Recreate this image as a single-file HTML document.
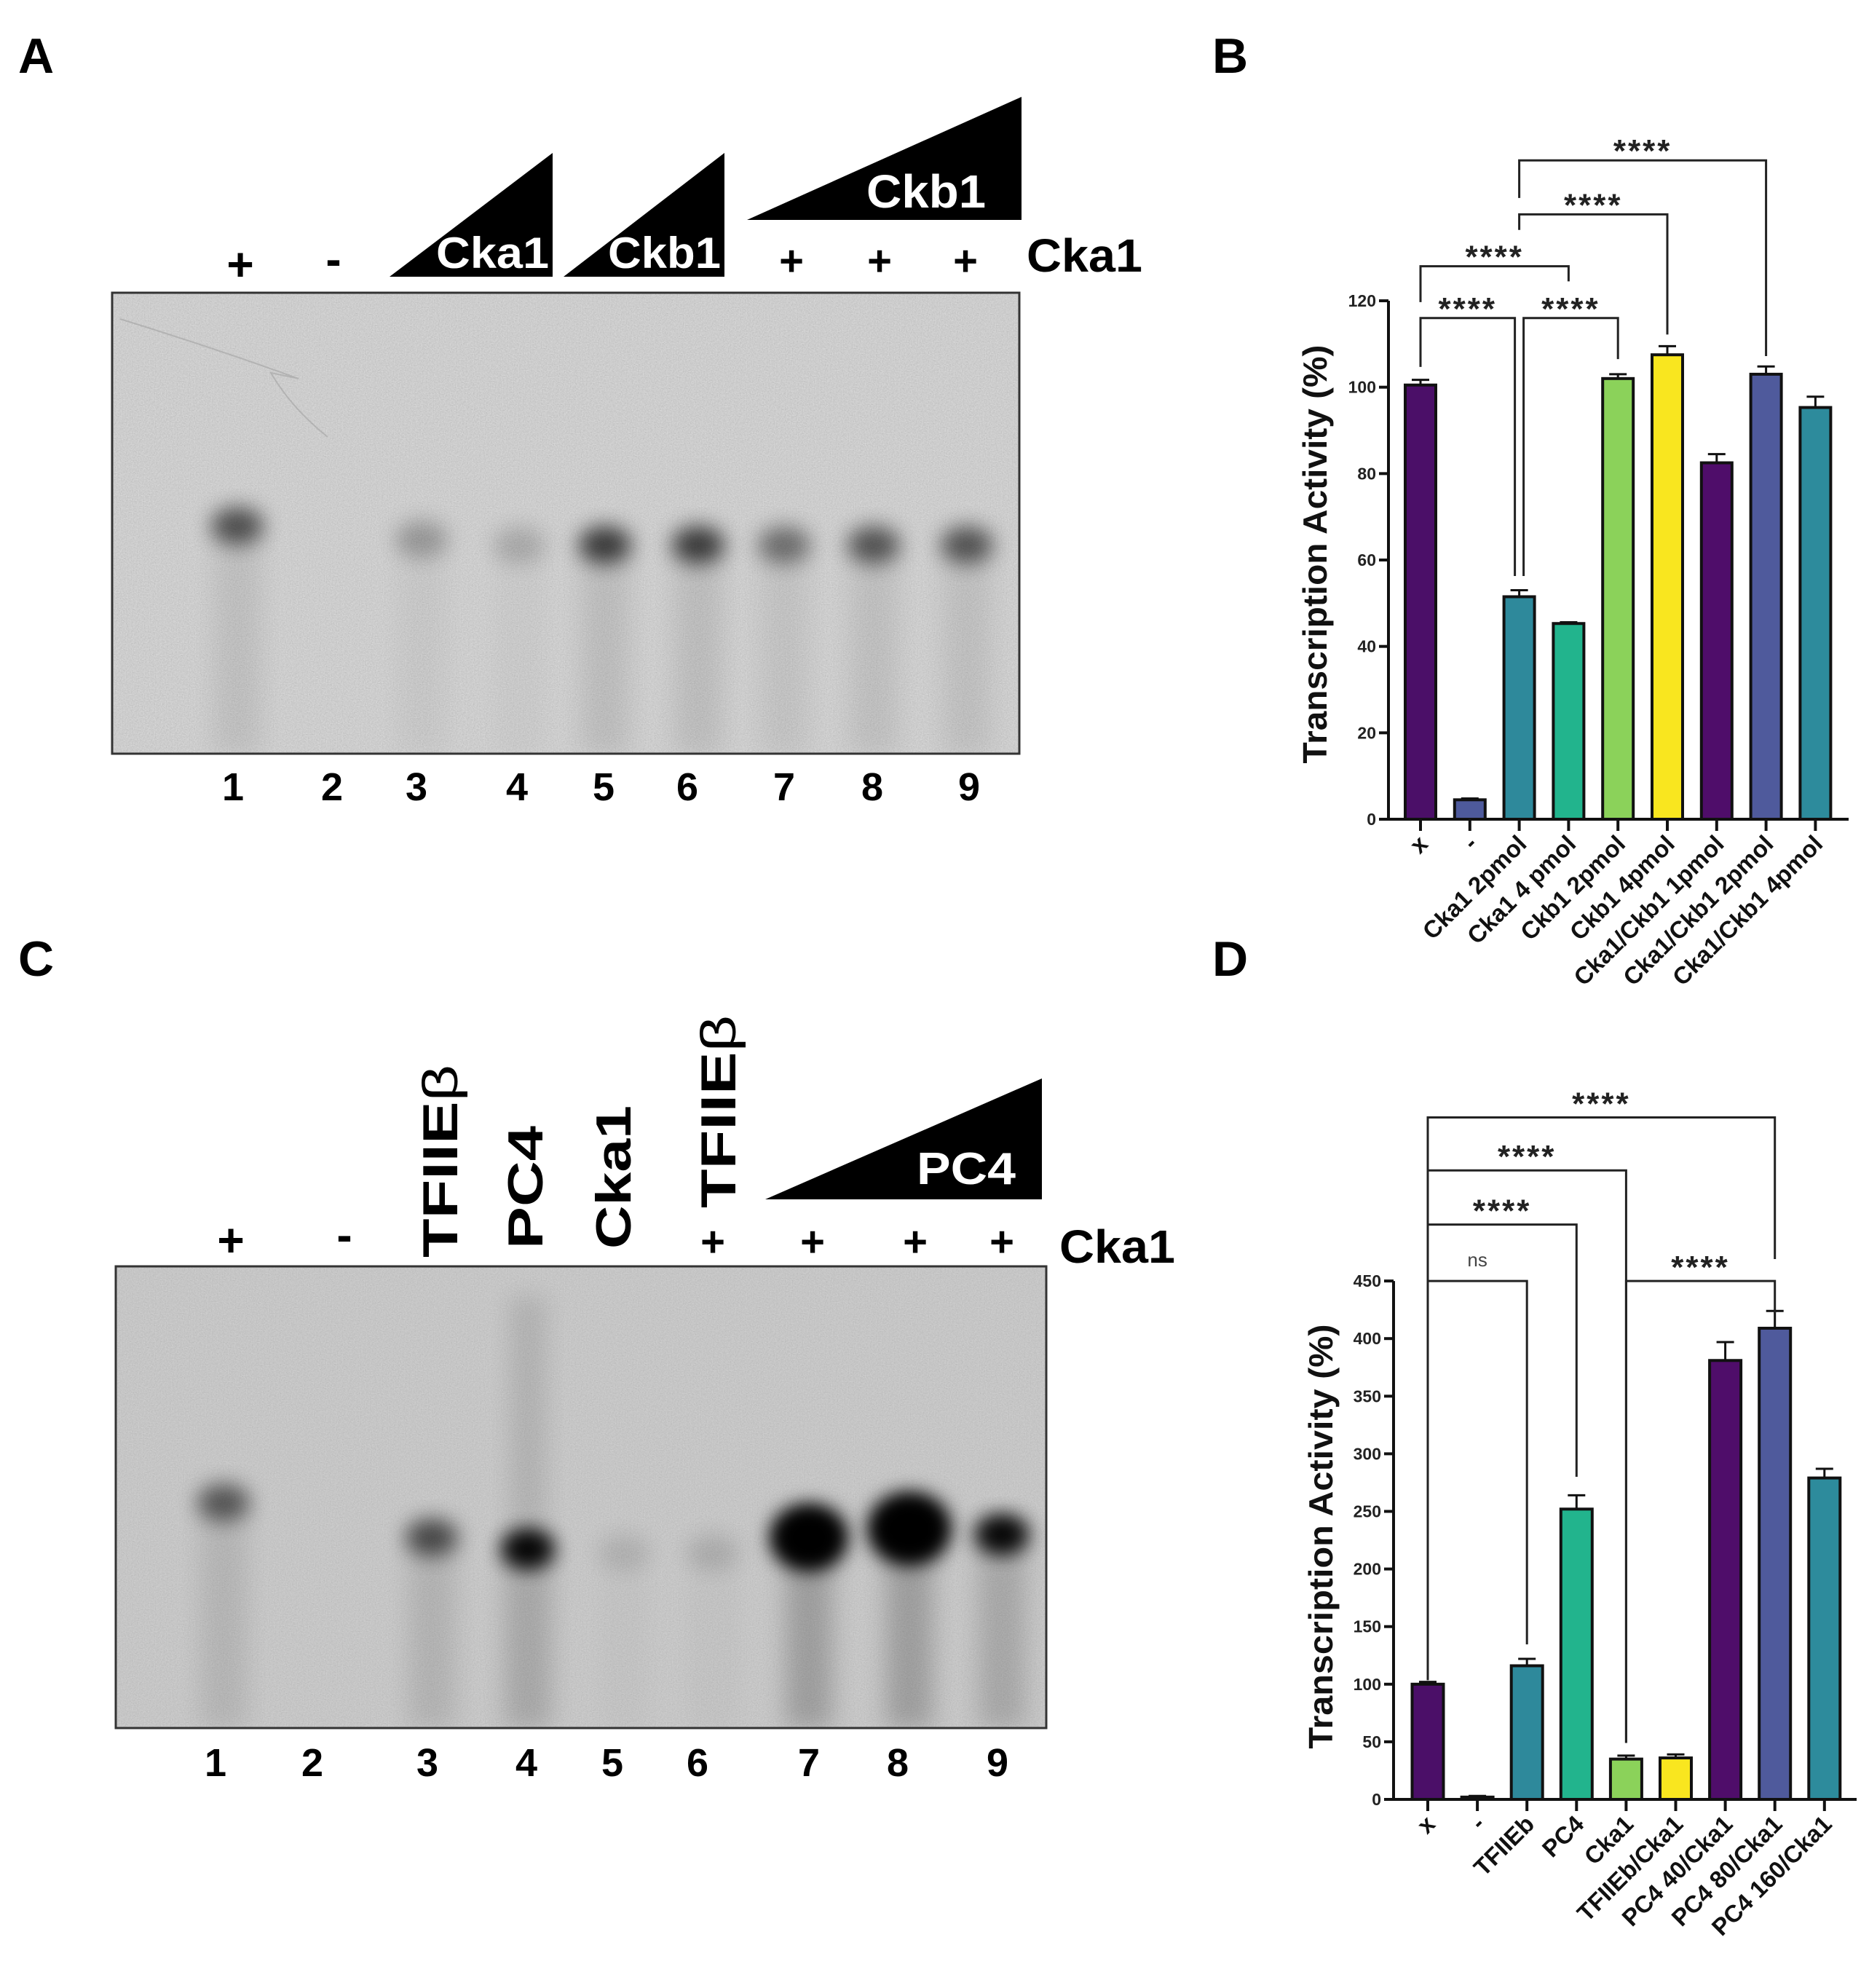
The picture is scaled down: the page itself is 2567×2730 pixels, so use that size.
<!DOCTYPE html>
<html><head><meta charset="utf-8"><style>
html,body{margin:0;padding:0;background:#fff}
svg{display:block}
text{font-family:"Liberation Sans",Arial,sans-serif}
</style></head><body>
<svg id="fig" width="2567" height="2730" viewBox="0 0 2567 2730" xmlns="http://www.w3.org/2000/svg">
<defs>
<filter id="noise" x="0" y="0" width="100%" height="100%">
<feTurbulence type="fractalNoise" baseFrequency="0.6" numOctaves="2" seed="3" result="t"/>
<feColorMatrix type="matrix" values="0 0 0 0 0  0 0 0 0 0  0 0 0 0 0  0.33 0.33 0.33 0 -0.35"/>
<feComposite in2="SourceGraphic" operator="in"/>
</filter>
<filter id="blurB" x="-50%" y="-50%" width="200%" height="200%"><feGaussianBlur stdDeviation="14"/></filter>
<filter id="blurS" x="-50%" y="-10%" width="200%" height="120%"><feGaussianBlur stdDeviation="16"/></filter>
<clipPath id="clipA"><rect x="154" y="402" width="1246" height="633"/></clipPath>
<clipPath id="clipC"><rect x="159" y="1739" width="1278" height="634"/></clipPath>
</defs>

<text x="25" y="100" font-size="68" font-weight="bold">A</text>
<text x="1665" y="100" font-size="68" font-weight="bold">B</text>
<text x="25" y="1340" font-size="68" font-weight="bold">C</text>
<text x="1665" y="1340" font-size="68" font-weight="bold">D</text>

<g>
<rect x="154" y="402" width="1246" height="633" fill="#d6d6d6"/>
<rect x="154" y="402" width="1246" height="633" fill="#fff" filter="url(#noise)" opacity="0.3"/>
<g id="gelAmarks" clip-path="url(#clipA)"></g>
<path d="M165 438 Q 300 480 410 520 L 372 512 Q 400 560 450 600" stroke="#999" stroke-width="2" fill="none" opacity="0.5"/>
<rect x="154" y="402" width="1246" height="633" fill="none" stroke="#333" stroke-width="3"/>
</g>
<g font-weight="bold">
<text x="330" y="385" font-size="64" text-anchor="middle">+</text>
<text x="458" y="378" font-size="64" text-anchor="middle">-</text>
<polygon points="535,380 759,210 759,380" fill="#000"/>
<text x="754" y="368" font-size="60" fill="#fff" text-anchor="end" textLength="155" lengthAdjust="spacingAndGlyphs">Cka1</text>
<polygon points="774,380 995,210 995,380" fill="#000"/>
<text x="990" y="368" font-size="60" fill="#fff" text-anchor="end" textLength="155" lengthAdjust="spacingAndGlyphs">Ckb1</text>
<polygon points="1026,302 1403,133 1403,302" fill="#000"/>
<text x="1354" y="285" font-size="64" fill="#fff" text-anchor="end" textLength="164" lengthAdjust="spacingAndGlyphs">Ckb1</text>
<text x="1087" y="378" font-size="58" text-anchor="middle">+</text>
<text x="1208" y="378" font-size="58" text-anchor="middle">+</text>
<text x="1326" y="378" font-size="58" text-anchor="middle">+</text>
<text x="1410" y="373" font-size="64" textLength="159" lengthAdjust="spacingAndGlyphs">Cka1</text>
</g>
<g id="gelAnums"></g>

<g>
<rect x="159" y="1739" width="1278" height="634" fill="#cdcdcd"/>
<rect x="159" y="1739" width="1278" height="634" fill="#fff" filter="url(#noise)" opacity="0.25"/>
<g id="gelCmarks" clip-path="url(#clipC)"></g>
<rect x="159" y="1739" width="1278" height="634" fill="none" stroke="#333" stroke-width="3"/>
</g>
<g font-weight="bold">
<text x="317" y="1725" font-size="64" text-anchor="middle">+</text>
<text x="473" y="1718" font-size="64" text-anchor="middle">-</text>
<text transform="translate(628,1727) rotate(-90)" font-size="68" textLength="265" lengthAdjust="spacingAndGlyphs">TFIIE<tspan font-weight="normal">β</tspan></text>
<text transform="translate(745,1715) rotate(-90)" font-size="68" textLength="169" lengthAdjust="spacingAndGlyphs">PC4</text>
<text transform="translate(866,1715) rotate(-90)" font-size="68" textLength="197" lengthAdjust="spacingAndGlyphs">Cka1</text>
<text x="979" y="1725" font-size="58" text-anchor="middle">+</text>
<text transform="translate(1010,1659) rotate(-90)" font-size="68" textLength="265" lengthAdjust="spacingAndGlyphs">TFIIE<tspan font-weight="normal">β</tspan></text>
<polygon points="1051,1647 1431,1481 1431,1647" fill="#000"/>
<text x="1395" y="1626" font-size="62" fill="#fff" text-anchor="end" textLength="136" lengthAdjust="spacingAndGlyphs">PC4</text>
<text x="1116" y="1725" font-size="58" text-anchor="middle">+</text>
<text x="1257" y="1725" font-size="58" text-anchor="middle">+</text>
<text x="1376" y="1725" font-size="58" text-anchor="middle">+</text>
<text x="1455" y="1734" font-size="64" textLength="159" lengthAdjust="spacingAndGlyphs">Cka1</text>
</g>
<g id="gelCnums"></g>

<g id="chartB"></g>
<g id="chartD"></g>
</svg>
<script>
// ---- Chart B data ----
const catB = ["x","-","Cka1 2pmol","Cka1 4 pmol","Ckb1 2pmol","Ckb1 4pmol","Cka1/Ckb1 1pmol","Cka1/Ckb1 2pmol","Cka1/Ckb1 4pmol"];
const valB = [100.5, 4.5, 51.5, 45.3, 102, 107.5, 82.5, 103, 95.3];
const errB = [1.2, 0.3, 1.5, 0.3, 1.0, 2.0, 2.0, 1.8, 2.5];
const ticksB = [0,20,40,60,80,100,120];
const bracketFromB = [0, 2, 0, 2, 2];
const bracketToB = [2, 4, 3, 5, 7];
const bracketLevelB = [116, 116, 128, 140, 152.5];
const bracketFromBotB = [104.7, 56.3, 119.7, 136.4, 143.8];
const bracketToBotB = [56.3, 106.5, 124.5, 112.2, 107.2];
const bracketShiftFromB = [0, 6, 0, 0, 0];
const bracketShiftToB = [-6, 0, 0, 0, 0];
const bracketLabelB = ["****","****","****","****","****"];
// ---- Chart D data ----
const catD = ["x","-","TFIIEb","PC4","Cka1","TFIIEb/Cka1","PC4 40/Cka1","PC4 80/Cka1","PC4 160/Cka1"];
const valD = [100, 2, 116, 252, 35, 36, 381, 409, 279];
const errD = [2, 1, 6, 12, 3, 3, 16, 15, 8];
const ticksD = [0,50,100,150,200,250,300,350,400,450];
const bracketFromD = [0, 0, 0, 0, 4];
const bracketToD = [2, 3, 4, 7, 7];
const bracketLevelD = [450, 499, 546, 592, 450];
const bracketFromBotD = [103.6, 103.6, 103.6, 103.6, 49];
const bracketToBotD = [134.6, 280, 49, 469, 422];
const bracketShiftFromD = [0, 0, 0, 0, 0];
const bracketShiftToD = [0, 0, 0, 0, 0];
const bracketLabelD = ["ns","****","****","****","****"];
// ---- Gel data ----
const laneA = [1,2,3,4,5,6,7,8,9];
const bandIntA = [0.6, 0, 0.25, 0.17, 0.7, 0.7, 0.45, 0.58, 0.58];
const bandYA = [722, 748, 740, 748, 748, 748, 748, 748, 748];
const bandXA = [326, 458, 579, 713, 831, 959, 1077, 1200, 1328];
const numXA = [320, 456, 572, 710, 829, 944, 1077, 1198, 1331];
const laneC = [1,2,3,4,5,6,7,8,9];
const bandIntC = [0.55, 0, 0.62, 0.95, 0.1, 0.12, 1.4, 1.5, 0.95];
const bandYC = [2063, 2110, 2111, 2127, 2131, 2131, 2111, 2099, 2107];
const bandXC = [307, 440, 593, 725, 857, 979, 1111, 1249, 1376];
const numXC = [296, 429, 587, 723, 841, 958, 1111, 1233, 1370];

const colors = ["#4b0f68","#4e5a9c","#2e899b","#22b48d","#8bd25a","#f9e61f","#4f0d6a","#4f5a9c","#2d8b9c"];
const NS = "http://www.w3.org/2000/svg";
function mk(tag, attrs, parent){ const e=document.createElementNS(NS,tag); for(const k in attrs) e.setAttribute(k,attrs[k]); parent.appendChild(e); return e; }

function drawGel(gId, nId, lanes, ints, ys, xs, nxs, bottom, numY, smearK){
  const g=document.getElementById(gId);
  for(let i=0;i<lanes.length;i++){
    const it=ints[i];
    if(it<=0) continue;
    const s = mk('rect',{x:xs[i]-32,y:ys[i],width:64,height:bottom-ys[i],fill:'#000',opacity:Math.min(0.2,it*smearK),filter:'url(#blurS)'},g);
    
    
    const rx = 36 + (it>1?(it-1)*40:0), ry = 26 + (it>1?(it-1)*45:0);
    const b = mk('ellipse',{cx:xs[i],cy:ys[i],rx:rx,ry:ry,fill:'#000',opacity:Math.min(1,it),filter:'url(#blurB)'},g);
    
    
    if(it>0.8){
      const c = mk('ellipse',{cx:xs[i],cy:ys[i],rx:rx*0.8,ry:ry*0.8,fill:'#000',opacity:Math.min(1,it-0.4),filter:'url(#blurB)'},g);
      
      
    }
  }
  const n=document.getElementById(nId);
  for(let i=0;i<lanes.length;i++){
    const t=mk('text',{x:nxs[i],y:numY,'font-size':54,'font-weight':'bold','text-anchor':'middle'},n);
    
    
    t.textContent=lanes[i];
  }
}
drawGel('gelAmarks','gelAnums',laneA,bandIntA,bandYA,bandXA,numXA,1035,1099,0.12);
drawGel('gelCmarks','gelCnums',laneC,bandIntC,bandYC,bandXC,numXC,2373,2439,0.16);
(function(){const g=document.getElementById('gelCmarks');
const e=mk('rect',{x:700,y:1780,width:50,height:330,fill:'#000',opacity:0.1,filter:'url(#blurS)'},g);

})();

function drawChart(gId, cats, vals, errs, ticks, bf, bt, bl, bfb, btb, bsf, bst, blab, o){
  const g=document.getElementById(gId);
  const y=v=>o.y0 - v*o.k;
  const x=i=>o.x0 + i*o.step;
  for(let i=0;i<cats.length;i++){
    const r=mk('rect',{x:x(i)-o.bw/2,y:y(vals[i]),width:o.bw,height:o.y0-y(vals[i]),fill:colors[i],stroke:'#111','stroke-width':4},g);
    
    
    const e=mk('path',{d:`M${x(i)} ${y(vals[i])} V${y(vals[i]+errs[i])} M${x(i)-12} ${y(vals[i]+errs[i])} H${x(i)+12}`,stroke:'#111','stroke-width':3,fill:'none'},g);
    
    
  }
  const ax=mk('path',{d:`M${o.ax} ${y(ticks[ticks.length-1])} V${o.y0} H${o.xend}`,stroke:'#111','stroke-width':4,fill:'none'},g);
  
  
  for(const t of ticks){
    const tk=mk('line',{x1:o.ax-13,x2:o.ax,y1:y(t),y2:y(t),stroke:'#111','stroke-width':4},g);
    
    
    const tl=mk('text',{x:o.ax-17,y:y(t)+8,'font-size':23,'font-weight':'bold','text-anchor':'end',fill:'#222'},g);
    
    
    tl.textContent=t;
  }
  for(let i=0;i<cats.length;i++){
    const tk=mk('line',{x1:x(i),x2:x(i),y1:o.y0,y2:o.y0+16,stroke:'#111','stroke-width':4},g);
    
    
    const tl=mk('text',{transform:`translate(${x(i)+12},${o.y0+36}) rotate(-45)`,'font-size':o.xfs,'font-weight':'bold','text-anchor':'end',fill:'#111'},g);
    
    
    tl.textContent=cats[i];
  }
  const tt=mk('text',{transform:`translate(${o.tx},${o.ty}) rotate(-90)`,'font-size':46,'font-weight':'bold','text-anchor':'middle',textLength:o.tlen,lengthAdjust:'spacingAndGlyphs',fill:'#111'},g);
  
  
  tt.textContent='Transcription Activity (%)';
  for(let j=0;j<bf.length;j++){
    const xa=x(bf[j])+bsf[j], xb=x(bt[j])+bst[j], ly=y(bl[j]);
    const br=mk('path',{d:`M${xa} ${y(bfb[j])} V${ly} H${xb} V${y(btb[j])}`,stroke:'#222','stroke-width':3,fill:'none'},g);
    
    
    const isNs = blab[j]==='ns';
    const lb=mk('text',{x:(xa+xb)/2,y:isNs?ly-20:ly-o.lo,'font-size':isNs?26:44,'font-weight':isNs?'normal':'bold','text-anchor':'middle','letter-spacing':isNs?0:3,fill:isNs?'#444':'#222'},g);
    
    
    lb.textContent=blab[j];
  }
}
drawChart('chartB',catB,valB,errB,ticksB,bracketFromB,bracketToB,bracketLevelB,bracketFromBotB,bracketToBotB,bracketShiftFromB,bracketShiftToB,bracketLabelB,
  {y0:1125,k:5.933,x0:1951,step:67.8,bw:42,ax:1907,xend:2539,tx:1822,ty:761,tlen:575,xfs:33,lo:-2});
drawChart('chartD',catD,valD,errD,ticksD,bracketFromD,bracketToD,bracketLevelD,bracketFromBotD,bracketToBotD,bracketShiftFromD,bracketShiftToD,bracketLabelD,
  {y0:2471,k:1.582,x0:1961,step:68.1,bw:43,ax:1914,xend:2550,tx:1830,ty:2110,tlen:583,xfs:33,lo:4});
</script>
</body></html>
